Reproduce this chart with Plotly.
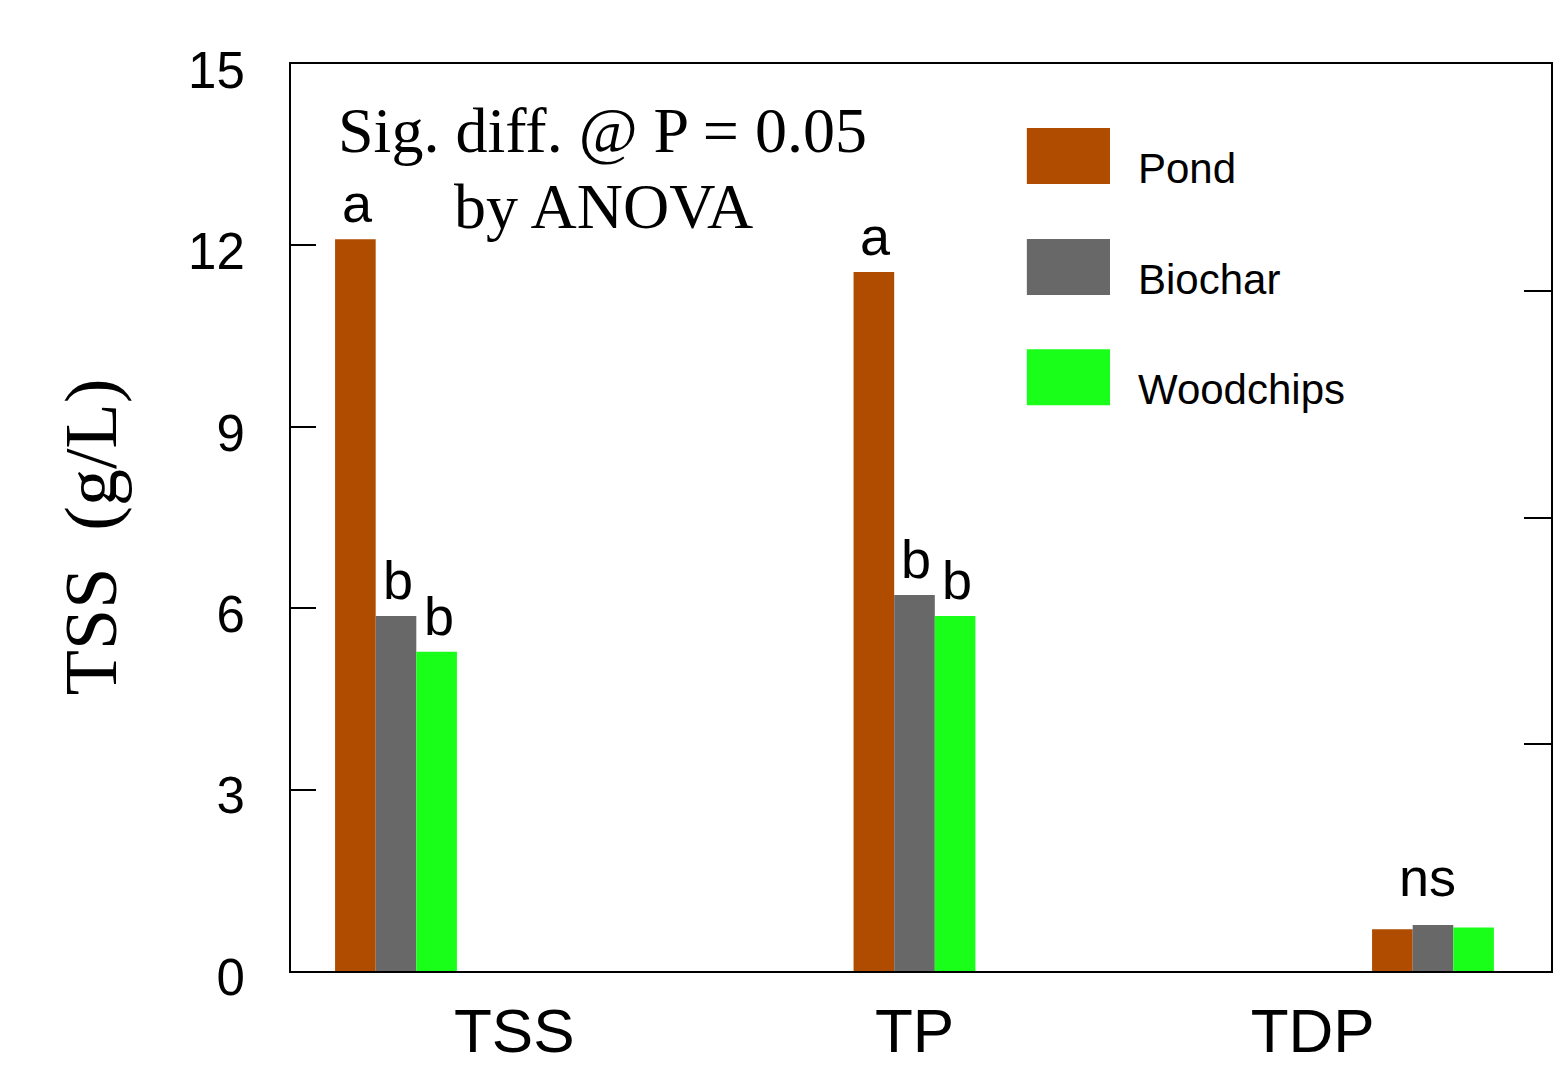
import plotly.graph_objects as go

categories = ["TSS", "TP", "TDP"]
series_names = ["Pond", "Biochar", "Woodchips"]
pond = [12.1, 11.56, 0.69]
biochar = [5.87, 6.22, 0.76]
woodchips = [5.28, 5.87, 0.72]
sig_pond = ["a", "a", ""]
sig_biochar = ["b", "b", "ns"]
sig_woodchips = ["b", "b", ""]
y_ticks = [0, 3, 6, 9, 12, 15]
y2_ticks = [5, 10, 15]
cat_tick_pos = [0.228, 1.0, 1.768]

colors = ["#B04C00", "#686868", "#19FF1A"]
values = [pond, biochar, woodchips]
sigs = [sig_pond, sig_biochar, sig_woodchips]

xs = list(range(len(categories)))
bargap = 0.765
group_w = 1 - bargap
bar_w = group_w / len(series_names)

fig = go.Figure()
for name, vals, col in zip(series_names, values, colors):
    fig.add_trace(go.Bar(x=xs, y=vals, name=name, marker=dict(color=col, line=dict(width=0)),
                         showlegend=False))
# dummy trace for right axis
fig.add_trace(go.Scatter(x=[None], y=[None], yaxis="y2", showlegend=False, hoverinfo="skip"))

# significance letters
for j, (vals, labs) in enumerate(zip(values, sigs)):
    off = -group_w / 2 + bar_w * (j + 0.5)
    for i, (v, lab) in enumerate(zip(vals, labs)):
        if lab:
            fig.add_annotation(x=xs[i] + off, y=v, xref="x", yref="y", text=lab, showarrow=False,
                               yanchor="bottom", xanchor="center",
                               yshift=16 if lab == "ns" else 4,
                               xshift=-5 if lab == "ns" else 2,
                               font=dict(family="Liberation Sans, Arial", size=54, color="black"))

# manual legend
leg_x0, leg_x1 = 0.584, 0.650
leg_tops = [0.9295, 0.807, 0.6855]
sw_h = 0.0617
for name, col, top in zip(series_names, colors, leg_tops):
    fig.add_shape(type="rect", xref="paper", yref="paper", x0=leg_x0, x1=leg_x1, y0=top - sw_h, y1=top,
                  fillcolor=col, line=dict(width=0))
    fig.add_annotation(xref="paper", yref="paper", x=0.671, y=top - sw_h / 2 - 0.014, text=name,
                       showarrow=False, xanchor="left", yanchor="middle",
                       font=dict(family="Liberation Sans, Arial", size=42, color="black"))

# ANOVA note
fig.add_annotation(xref="paper", yref="paper", x=0.036, y=0.927, text="Sig. diff. @ P = 0.05",
                   showarrow=False, xanchor="left", yanchor="middle",
                   font=dict(family="Liberation Serif, Times New Roman", size=64, color="black"))
fig.add_annotation(xref="paper", yref="paper", x=0.128, y=0.843, text="by ANOVA",
                   showarrow=False, xanchor="left", yanchor="middle",
                   font=dict(family="Liberation Serif, Times New Roman", size=64, color="black"))

# y-axis title
fig.add_annotation(xref="paper", yref="paper", x=-0.159, y=0.479, text="TSS\u00a0 (g/L)",
                   textangle=-90, showarrow=False, xanchor="center", yanchor="middle",
                   font=dict(family="Liberation Serif, Times New Roman", size=74, color="black"))

fig.update_layout(
    width=1557, height=1067,
    margin=dict(l=291, r=6, t=64, b=96, autoexpand=False),
    paper_bgcolor="white", plot_bgcolor="white",
    barmode="group", bargap=bargap, bargroupgap=0,
    xaxis=dict(range=[-0.2025, 2.2276], tickvals=cat_tick_pos, ticktext=categories,
               showgrid=False, zeroline=False, showline=True, linecolor="black", linewidth=2,
               mirror=True, ticks="", ticklabelstandoff=5,
               tickfont=dict(family="Liberation Sans, Arial", size=62, color="black")),
    yaxis=dict(range=[0, 15], tickvals=y_ticks, showgrid=False, zeroline=False, showline=True,
               linecolor="black", linewidth=2, ticks="inside", ticklen=25, tickwidth=2,
               tickcolor="black", ticklabelstandoff=34, ticklabelshift=6,
               tickfont=dict(family="Liberation Sans, Arial", size=51, color="black")),
    yaxis2=dict(range=[0, 20], overlaying="y", side="right", anchor="x", tickvals=y2_ticks,
                showticklabels=False, showgrid=False, zeroline=False, showline=True,
                linecolor="black", linewidth=2, ticks="inside", ticklen=27, tickwidth=2,
                tickcolor="black"),
)

fig.write_html("out.html", config={"displayModeBar": False},
               post_script="document.body.style.margin='0px';document.body.style.overflow='hidden';")
